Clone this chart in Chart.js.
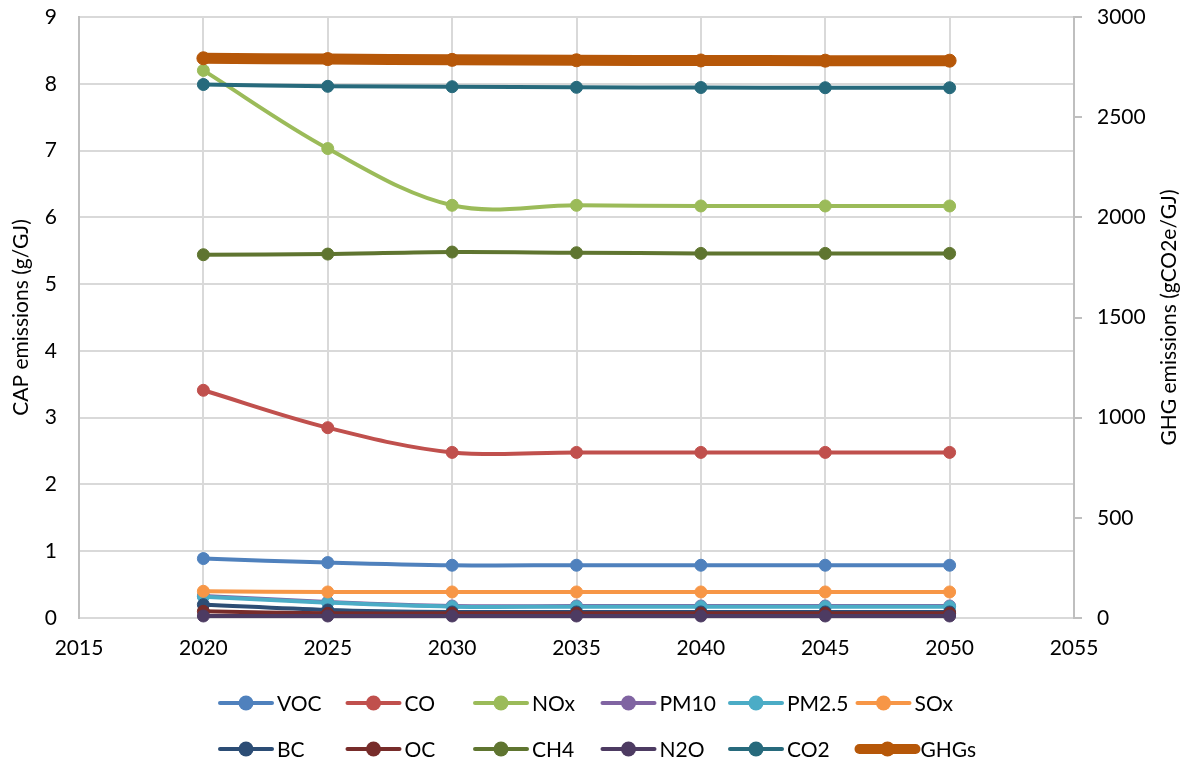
<!DOCTYPE html>
<html>
<head>
<meta charset="utf-8">
<title>CAP and GHG emissions</title>
<script src="https://cdn.jsdelivr.net/npm/chart.js@4.4.0/dist/chart.umd.min.js"></script>
<style>
  html, body { margin:0; padding:0; background:#fff; }
  canvas { display:block; }
</style>
</head>
<body>
<canvas id="chartEmis" width="1190" height="765"></canvas>
<script>
// years on the x axis
const years = [2020, 2025, 2030, 2035, 2040, 2045, 2050];

// criteria air pollutants, g/GJ (left axis)
const voc  = [0.89, 0.83, 0.79, 0.79, 0.79, 0.79, 0.79];
const co   = [3.41, 2.85, 2.48, 2.48, 2.48, 2.48, 2.48];
const nox  = [8.20, 7.03, 6.18, 6.18, 6.17, 6.17, 6.17];
const pm10 = [0.33, 0.24, 0.18, 0.18, 0.18, 0.18, 0.18];
const pm25 = [0.32, 0.23, 0.17, 0.17, 0.17, 0.17, 0.17];
const sox  = [0.40, 0.39, 0.39, 0.39, 0.39, 0.39, 0.39];
const bc   = [0.20, 0.12, 0.09, 0.09, 0.09, 0.09, 0.09];
const oc   = [0.10, 0.07, 0.07, 0.07, 0.07, 0.07, 0.07];
const ch4  = [5.44, 5.45, 5.48, 5.47, 5.46, 5.46, 5.46];
const n2o  = [0.03, 0.03, 0.03, 0.03, 0.03, 0.03, 0.03];

// greenhouse gases, gCO2e/GJ (right axis)
const co2  = [2663, 2654, 2652, 2649, 2648, 2647, 2647];
const ghgs = [2794, 2790, 2786, 2784, 2783, 2782, 2782];

const names  = ['VOC','CO','NOx','PM10','PM2.5','SOx','BC','OC','CH4','N2O','CO2','GHGs'];
const values = [voc, co, nox, pm10, pm25, sox, bc, oc, ch4, n2o, co2, ghgs];
const colors = ['#4f81bd','#c0504d','#9bbb59','#8064a2','#4bacc6','#f79646',
                '#2c4d75','#772c2a','#5f7530','#4d3b62','#276a7c','#b65708'];
const ghgSeries = ['CO2','GHGs'];

const capTicks = [0,1,2,3,4,5,6,7,8,9];
const ghgTicks = [0,500,1000,1500,2000,2500,3000];
const yearTicks = [2015,2020,2025,2030,2035,2040,2045,2050,2055];

const FONT = 'Lato, "Open Sans", sans-serif';
Chart.defaults.font.family = FONT;
Chart.defaults.font.size = 21;
Chart.defaults.color = '#000';

const datasets = names.map((name, i) => {
  const thick = name === 'GHGs';
  return {
    label: name,
    data: years.map((yr, k) => ({ x: yr, y: values[i][k] })),
    yAxisID: ghgSeries.includes(name) ? 'yGhg' : 'yCap',
    borderColor: colors[i],
    backgroundColor: colors[i],
    pointBackgroundColor: colors[i],
    pointBorderColor: colors[i],
    borderWidth: thick ? 11 : 4,
    pointRadius: thick ? 6.5 : 6,
    pointBorderWidth: 1,
    tension: 0.35,
    clip: false,
    order: names.length - i   // later series sit on top
  };
});

// two-row legend under the plot + right axis title reading bottom-up
const extras = {
  id: 'extras',
  afterDraw(chart){
    const ctx = chart.ctx;
    const colW = 127.5;
    const x0 = chart.width/2 - 375;
    ctx.save();
    ctx.font = '21px ' + FONT;
    ctx.textBaseline = 'middle';
    ctx.textAlign = 'left';
    names.forEach((name, i) => {
      const col = i % 6, row = Math.floor(i / 6);
      const x = x0 + col*colW;
      const y = chart.height - 62 + row*46;
      const thick = name === 'GHGs';
      ctx.strokeStyle = colors[i];
      ctx.fillStyle = colors[i];
      ctx.lineCap = 'round';
      ctx.lineWidth = thick ? 10 : 4;
      ctx.beginPath();
      ctx.moveTo(x + (thick ? 2 : 0), y);
      ctx.lineTo(x + 52 + (thick ? 6 : 0), y);
      ctx.stroke();
      ctx.beginPath();
      ctx.arc(x + 26 + (thick ? 4 : 0), y, 7.5, 0, Math.PI*2);
      ctx.fill();
      ctx.fillStyle = '#000';
      ctx.fillText(name, x + 57 + (thick ? 6 : 0), y + 1);
    });

    const area = chart.chartArea;
    ctx.translate(chart.width - 21, (area.top + area.bottom)/2);
    ctx.rotate(-Math.PI/2);
    ctx.textAlign = 'center';
    ctx.fillText('GHG emissions (gCO2e/GJ)', 0, 0);
    ctx.restore();
  }
};

// fixed scale width; labels may overhang the plot top without pushing it down
const fixWidth = w => s => { s.width = w; s.paddingTop = 0; s.paddingBottom = 0; };

const gridColor = '#d9d9d9';
const axisColor = '#bfbfbf';

new Chart(document.getElementById('chartEmis'), {
  type: 'line',
  data: { datasets },
  options: {
    responsive: false,
    animation: false,
    layout: { autoPadding: false, padding: { top: 17, bottom: 97, left: 0, right: 0 } },
    plugins: { legend: { display: false }, tooltip: { enabled: false } },
    scales: {
      x: {
        type: 'linear',
        min: 2015, max: 2055,
        afterBuildTicks: s => { s.ticks = yearTicks.map(v => ({ value: v })); },
        afterFit: s => { s.height = 50; },
        ticks: { padding: 18, callback: v => String(v) },
        grid: { color: gridColor, lineWidth: 2, drawTicks: false },
        border: { display: false }
      },
      yCap: {
        position: 'left',
        min: 0, max: 9,
        afterBuildTicks: s => { s.ticks = capTicks.map(v => ({ value: v })); },
        afterFit: fixWidth(79),
        ticks: { padding: 22 },
        grid: { color: gridColor, lineWidth: 2, drawTicks: false },
        border: { display: true, color: axisColor, width: 2 },
        title: { display: true, text: 'CAP emissions (g/GJ)', padding: { top: 9, bottom: 0 } }
      },
      yGhg: {
        position: 'right',
        min: 0, max: 3000,
        afterBuildTicks: s => { s.ticks = ghgTicks.map(v => ({ value: v })); },
        afterFit: fixWidth(116),
        ticks: { padding: 15, callback: v => String(v) },
        grid: { drawOnChartArea: false, drawTicks: true, tickLength: 8, color: axisColor, lineWidth: 2 },
        border: { display: true, color: axisColor, width: 2 }
      }
    }
  },
  plugins: [extras]
});
</script>
</body>
</html>
